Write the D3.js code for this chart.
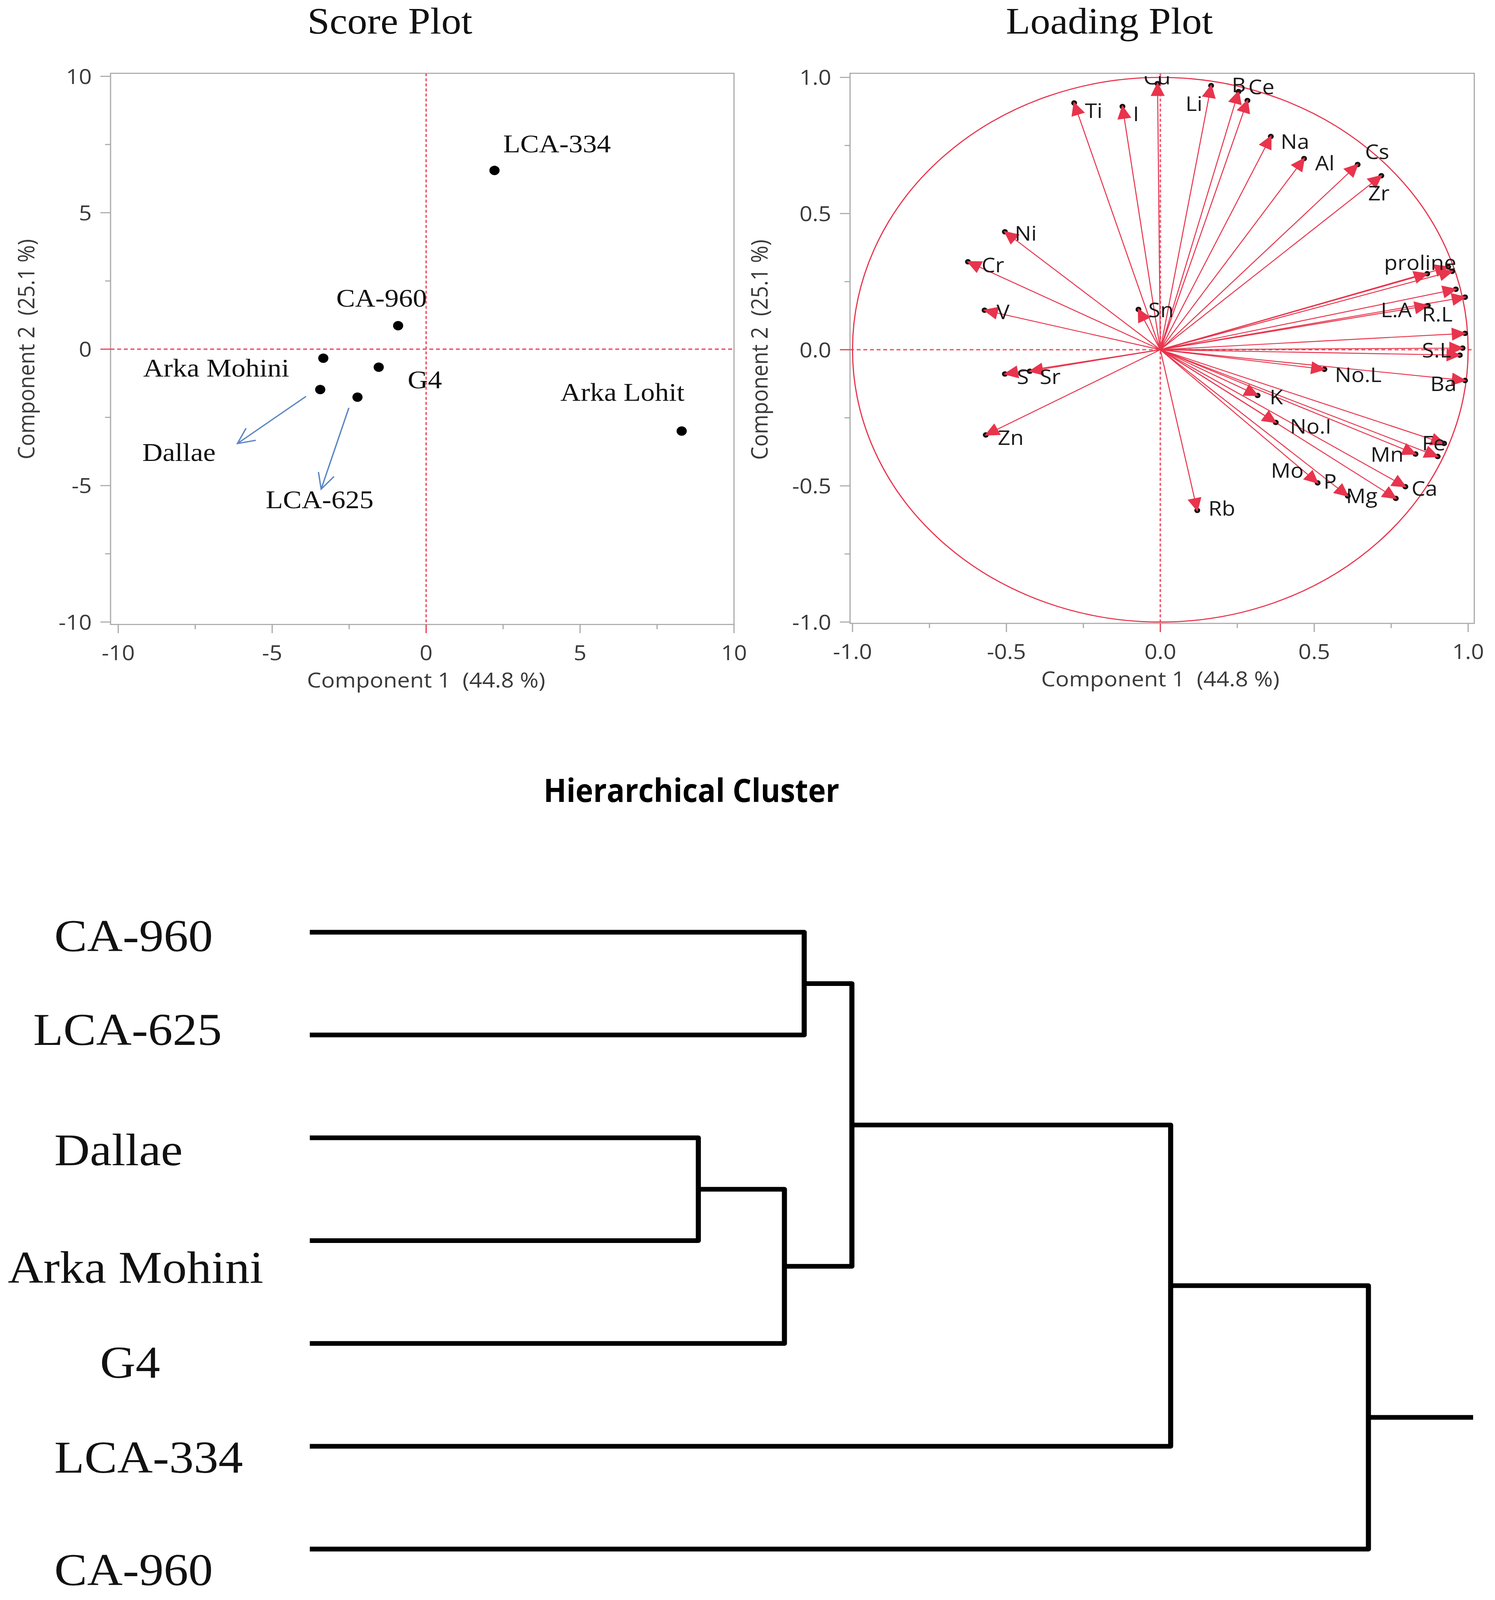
<!DOCTYPE html>
<html><head><meta charset="utf-8">
<script src="https://cdn.jsdelivr.net/npm/d3@7"></script>
<style>html,body{margin:0;padding:0;background:#fff;overflow:hidden;}svg{display:block;width:100vw;height:100vh;}</style>
</head><body>
<script>
// ---------------- DATA ----------------
// Score plot
const scoreNames = ["LCA-334","CA-960","Arka Mohini","G4","Dallae","LCA-625","Arka Lohit"];
const scorePC1   = [2.22, -0.91, -3.34, -1.54, -3.44, -2.23, 8.30];
const scorePC2   = [6.55,  0.86, -0.33, -0.66, -1.48, -1.76, -3.00];
// score label anchors (data units)
const scoreLabelX = [2.50, -2.92, -9.19, -0.60, -9.22, -5.21, 4.36];
const scoreLabelY = [7.22,  1.56, -1.01, -1.43, -4.10, -5.83, -1.89];
// callout arrows (data units): from -> to
const calloutFromX = [-3.90, -2.51];
const calloutFromY = [-1.73, -2.15];
const calloutToX   = [-6.13, -3.41];
const calloutToY   = [-3.46, -5.13];
const scoreTicks = [-10, -5, 0, 5, 10];

// Loading plot
const loadNames = ["Ti","I","Cu","Li","B","Ce","Na","Al","Cs","Zr","Ni","Cr","V","Sn","S","Sr","Zn","Rb",
  "K","No.I","No.L","Mo","P","Mg","Ca","Mn","Fe","","Ba","S.L","","","L.A","R.L","","proline","",""];
const loadPC1 = [-0.280,-0.123,-0.009,0.165,0.254,0.283,0.359,0.467,0.641,0.718,-0.505,-0.625,-0.571,-0.071,-0.505,-0.424,-0.567,0.120,
  0.316,0.375,0.533,0.511,0.609,0.765,0.796,0.829,0.922,0.901,0.990,0.973,0.982,0.990,0.869,0.990,0.960,0.867,0.948,0.935];
const loadPC2 = [0.906,0.893,0.977,0.970,0.948,0.915,0.783,0.702,0.680,0.639,0.433,0.323,0.145,0.148,-0.089,-0.079,-0.313,-0.590,
  -0.168,-0.267,-0.072,-0.489,-0.537,-0.546,-0.503,-0.383,-0.344,-0.392,-0.113,-0.020,0.006,0.060,0.162,0.193,0.222,0.279,0.288,0.304];
// label anchors (data units)
const loadLabelX = [-0.245,-0.089,-0.055,0.082,0.232,0.286,0.391,0.503,0.665,0.675,-0.473,-0.581,-0.532,-0.039,-0.466,-0.392,-0.528,0.156,
  0.355,0.421,0.567,0.359,0.530,0.603,0.816,0.683,0.850,0,0.877,0.850,0,0,0.716,0.850,0,0.727,0,0];
const loadLabelY = [0.851,0.840,0.974,0.877,0.946,0.938,0.738,0.659,0.701,0.549,0.401,0.285,0.112,0.120,-0.126,-0.126,-0.349,-0.610,
  -0.201,-0.308,-0.119,-0.470,-0.511,-0.564,-0.536,-0.411,-0.370,0,-0.152,-0.028,0,0,0.120,0.104,0,0.293,0,0];
const loadTicks = [-1.0, -0.5, 0.0, 0.5, 1.0];

// Hierarchical cluster (linkage: leaves 0..6, merges create nodes 7..12)
const leafNames   = ["CA-960","LCA-625","Dallae","Arka Mohini","G4","LCA-334","CA-960"];
const mergeLeft   = [0, 2, 8, 7, 10, 11];
const mergeRight  = [1, 3, 4, 9, 5, 6];
const mergeHeight = [4.25, 3.34, 4.08, 4.66, 7.40, 9.10];
const rootTail    = 10;

// ---------------- LAYOUT ----------------
const W = 3827, H = 4430;
const RED = "#e8344c", REF = "#f05a70", AXIS = "#a9a9a9", TXT = "#3a3a3a";
const sansFont = "'Open Sans','Noto Sans','DejaVu Sans',sans-serif";
const serifFont = "'Liberation Serif','Times New Roman',serif";
const leafLabelLeft = [139, 85, 139, 20, 256, 139, 139];
const leafLabelDy   = [53, 27, 76, 117, 95, 73, 100];
const hyphen = f => d => f(d).replace("\u2212", "-");

const svg = d3.select("body").append("svg")
  .attr("viewBox", `0 0 ${W} ${H}`).attr("preserveAspectRatio", "none");
svg.append("rect").attr("width", W).attr("height", H).attr("fill", "#fff");

function drawFrame(g, x, y, ticks, minorStep, xTitle, yTitle, yTitleX, fmt, clipId) {
  const [x0, x1] = x.range(), [y0, y1] = y.range();
  g.append("rect").attr("x", x0).attr("y", y1).attr("width", x1 - x0).attr("height", y0 - y1)
    .attr("fill", "none").attr("stroke", AXIS).attr("stroke-width", 3);
  const minor = d3.range(ticks[0] + minorStep, ticks[ticks.length - 1], minorStep * 2);
  g.selectAll(null).data(ticks).join("line")
    .attr("x1", d => x(d)).attr("x2", d => x(d)).attr("y1", y0).attr("y2", y0 + 24)
    .attr("stroke", d => d === 0 ? RED : AXIS).attr("stroke-width", 3);
  g.selectAll(null).data(minor).join("line")
    .attr("x1", d => x(d)).attr("x2", d => x(d)).attr("y1", y0).attr("y2", y0 + 13)
    .attr("stroke", AXIS).attr("stroke-width", 3);
  g.selectAll(null).data(ticks).join("text")
    .attr("x", d => x(d)).attr("y", y0 + 99).attr("text-anchor", "middle")
    .attr("font-family", sansFont).attr("font-size", 58).attr("fill", TXT).text(fmt);
  g.selectAll(null).data(ticks).join("line")
    .attr("y1", d => y(d)).attr("y2", d => y(d)).attr("x1", x0).attr("x2", x0 - 26)
    .attr("stroke", d => d === 0 ? RED : AXIS).attr("stroke-width", 3);
  g.selectAll(null).data(minor).join("line")
    .attr("y1", d => y(d)).attr("y2", d => y(d)).attr("x1", x0).attr("x2", x0 - 14)
    .attr("stroke", AXIS).attr("stroke-width", 3);
  g.selectAll(null).data(ticks).join("text")
    .attr("x", x0 - 48).attr("y", d => y(d)).attr("dy", "0.36em").attr("text-anchor", "end")
    .attr("font-family", sansFont).attr("font-size", 58).attr("fill", TXT).text(fmt);
  g.append("text").attr("x", x(0)).attr("y", y0 + 174).attr("text-anchor", "middle")
    .attr("font-family", sansFont).attr("font-size", 58).attr("fill", TXT)
    .attr("xml:space", "preserve").text(xTitle);
  g.append("text").attr("transform", `translate(${yTitleX},${y(0)}) rotate(-90)`)
    .attr("text-anchor", "middle").attr("dy", "0.36em")
    .attr("font-family", sansFont).attr("font-size", 58).attr("fill", TXT)
    .attr("xml:space", "preserve").text(yTitle);
  g.append("line").attr("x1", x0).attr("x2", x1).attr("y1", y(0)).attr("y2", y(0))
    .attr("stroke", REF).attr("stroke-width", 4).attr("stroke-dasharray", "10,7");
  g.append("line").attr("x1", x(0)).attr("x2", x(0)).attr("y1", y1).attr("y2", y0)
    .attr("stroke", REF).attr("stroke-width", 4).attr("stroke-dasharray", "8,6");
  svg.append("clipPath").attr("id", clipId).append("rect")
    .attr("x", x0).attr("y", y1 + 8).attr("width", x1 - x0).attr("height", y0 - y1 - 8);
}

// ---------- Score plot ----------
const sx = d3.scaleLinear().domain([-10.25, 10]).range([283, 1879]);
const sy = d3.scaleLinear().domain([-10.09, 10.11]).range([1729, 203]);
const gs = svg.append("g");
gs.append("text").attr("x", 998).attr("y", 93).attr("text-anchor", "middle")
  .attr("font-family", serifFont).attr("font-size", 102).attr("fill", "#111").text("Score Plot");
drawFrame(gs, sx, sy, scoreTicks, 2.5, "Component 1  (44.8 %)", "Component 2  (25.1 %)", 67, hyphen(d3.format("d")), "clipS");

const scoreData = scoreNames.map((n, i) => ({n, x: scorePC1[i], y: scorePC2[i], lx: scoreLabelX[i], ly: scoreLabelY[i]}));
gs.selectAll("circle.pt").data(scoreData).join("circle").attr("class", "pt")
  .attr("cx", d => sx(d.x)).attr("cy", d => sy(d.y)).attr("r", 13).attr("fill", "#000");
gs.selectAll("text.lbl").data(scoreData).join("text").attr("class", "lbl")
  .attr("x", d => sx(d.lx)).attr("y", d => sy(d.ly))
  .attr("font-family", serifFont).attr("font-size", 72).attr("fill", "#111").text(d => d.n);

const callouts = calloutFromX.map((v, i) => ({x1: sx(v), y1: sy(calloutFromY[i]), x2: sx(calloutToX[i]), y2: sy(calloutToY[i])}));
callouts.forEach(c => {
  const a = Math.atan2(c.y2 - c.y1, c.x2 - c.x1), L = 48, sp = 0.45;
  const p = d3.path();
  p.moveTo(c.x1, c.y1); p.lineTo(c.x2, c.y2);
  p.moveTo(c.x2 - L * Math.cos(a - sp), c.y2 - L * Math.sin(a - sp));
  p.lineTo(c.x2, c.y2);
  p.lineTo(c.x2 - L * Math.cos(a + sp), c.y2 - L * Math.sin(a + sp));
  gs.append("path").attr("d", p.toString()).attr("fill", "none")
    .attr("stroke", "#5b86c3").attr("stroke-width", 3.5);
});

// ---------- Loading plot ----------
const lx = d3.scaleLinear().domain([-1.008, 1.020]).range([2176, 3774]);
const ly = d3.scaleLinear().domain([-1.005, 1.015]).range([1726, 203]);
const gl = svg.append("g");
gl.append("text").attr("x", 2840).attr("y", 93).attr("text-anchor", "middle")
  .attr("font-family", serifFont).attr("font-size", 102).attr("fill", "#111").text("Loading Plot");
drawFrame(gl, lx, ly, loadTicks, 0.25, "Component 1  (44.8 %)", "Component 2  (25.1 %)", 1944, hyphen(d3.format(".1f")), "clipL");

gl.append("ellipse").attr("cx", lx(0)).attr("cy", ly(0))
  .attr("rx", lx(1) - lx(0)).attr("ry", ly(0) - ly(1))
  .attr("fill", "none").attr("stroke", RED).attr("stroke-width", 3);

const loadData = loadNames.map((n, i) => ({n, x: loadPC1[i], y: loadPC2[i], lx: loadLabelX[i], ly: loadLabelY[i]}));
gl.selectAll("line.vec").data(loadData).join("line").attr("class", "vec")
  .attr("x1", lx(0)).attr("y1", ly(0)).attr("x2", d => lx(d.x)).attr("y2", d => ly(d.y))
  .attr("stroke", RED).attr("stroke-width", 2.6);
gl.selectAll("circle.tip").data(loadData).join("circle").attr("class", "tip")
  .attr("cx", d => lx(d.x)).attr("cy", d => ly(d.y)).attr("r", 7.5).attr("fill", "#111");
gl.selectAll("path.head").data(loadData).join("path").attr("class", "head")
  .attr("d", d => {
    const tx = lx(d.x), ty = ly(d.y), ox = lx(0), oy = ly(0);
    const a = Math.atan2(ty - oy, tx - ox), L = 38, hw = 18;
    const ex = tx + 4 * Math.cos(a), ey = ty + 4 * Math.sin(a);
    const bx = ex - L * Math.cos(a), by = ey - L * Math.sin(a);
    const nx = -Math.sin(a) * hw, ny = Math.cos(a) * hw;
    return `M${ex},${ey}L${bx + nx},${by + ny}L${bx - nx},${by - ny}Z`;
  }).attr("fill", RED);
gl.append("g").attr("clip-path", "url(#clipL)")
  .selectAll("text").data(loadData.filter(d => d.n !== "")).join("text")
  .attr("x", d => lx(d.lx)).attr("y", d => ly(d.ly))
  .attr("font-family", sansFont).attr("font-size", 56).attr("fill", "#1a1a1a").text(d => d.n);

// ---------- Hierarchical cluster ----------
svg.append("text").attr("x", 1770).attr("y", 2220).attr("text-anchor", "middle")
  .attr("font-family", sansFont).attr("font-weight", 700).attr("font-size", 90)
  .attr("textLength", 757).attr("lengthAdjust", "spacingAndGlyphs").attr("fill", "#000")
  .text("Hierarchical Cluster");

const dx = d3.scaleLinear().domain([0, rootTail]).range([793, 3771]);
const dy = d3.scalePoint().domain(d3.range(leafNames.length)).range([2581, 4289]);
const nodes = leafNames.map((n, i) => ({h: 0, y: dy(i)}));
mergeLeft.forEach((l, k) => {
  const r = mergeRight[k];
  nodes.push({h: mergeHeight[k], y: (nodes[l].y + nodes[r].y) / 2, l, r});
});
const gd = svg.append("g").attr("fill", "none").attr("stroke", "#000")
  .attr("stroke-width", 13).attr("stroke-linejoin", "round");
nodes.filter(n => n.l !== undefined).forEach(n => {
  const A = nodes[n.l], B = nodes[n.r];
  gd.append("path").attr("d", `M${dx(A.h)},${A.y}H${dx(n.h)}V${B.y}H${dx(B.h)}`);
});
const root = nodes[nodes.length - 1];
gd.append("path").attr("d", `M${dx(root.h)},${root.y}H${dx(rootTail)}`);

svg.selectAll("text.leaf").data(leafNames).join("text").attr("class", "leaf")
  .attr("x", (d, i) => leafLabelLeft[i]).attr("y", (d, i) => dy(i) + leafLabelDy[i])
  .attr("font-family", serifFont).attr("font-size", 126).attr("fill", "#111").text(d => d);
</script>
</body></html>
